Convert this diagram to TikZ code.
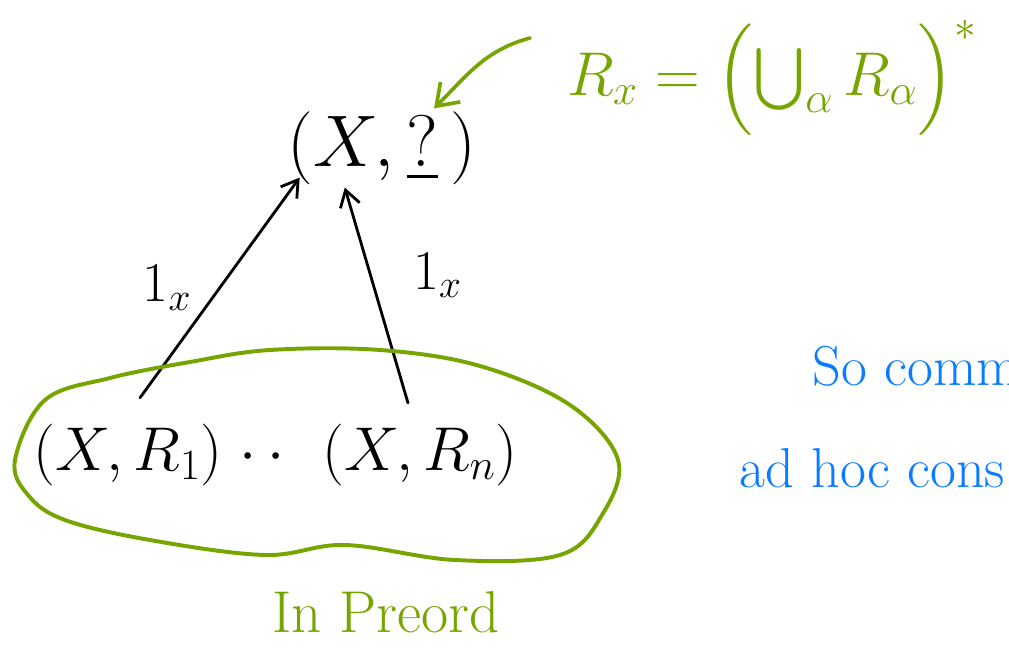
\RequirePackage{fix-cm}
\documentclass[tikz,border=0pt]{standalone}
\usepackage{amsmath,amssymb}
\usepackage{xcolor}
\usepackage{tikz}
\usetikzlibrary{arrows.meta,positioning}
\definecolor{penGreen}{RGB}{118,165,0}
\definecolor{penBlue}{RGB}{10,124,255}

\begin{document}
\begin{tikzpicture}[
  x=0.025cm, y=-0.025cm,
  obj/.style={inner sep=2pt, font=\fontsize{44}{52}\selectfont},
  arrow/.style={-{Straight Barb[length=4mm,width=5mm]}, line width=2pt, line cap=round},
  glabel/.style={text=penGreen, font=\fontsize{42}{50}\selectfont},
  garrow/.style={-{Straight Barb[length=5mm,width=7mm]}, line width=2.6pt, draw=penGreen, line cap=round},
  note/.style={text=penBlue, anchor=base west, font=\fontsize{40}{48}\selectfont},
  lab/.style={font=\fontsize{40}{48}\selectfont}
]
\clip (0,0) rectangle (1009,649);
\node[obj, font=\fontsize{52}{60}\selectfont] (top) at (382,148) {$(X,\underline{?}\,)$};
\node[obj] (r1) at (128,455) {$(X,R_1)$};
\node[obj] (dots) at (262,458) {$\cdot\,\cdot$};
\node[obj] (rn) at (420,455) {$(X,R_n)$};
\draw[arrow] ([xshift=0.3cm,yshift=0.58cm]r1.north) -- ([xshift=0.38cm,yshift=0.25cm]top.south west)
  node[lab, midway, left=16pt] {$1_x$};
\draw[arrow] ([xshift=-0.3cm,yshift=0.45cm]rn.north) -- ([xshift=-0.93cm]top.south)
  node[lab, midway, right=22pt, yshift=0.5cm] {$1_x$};
\draw[penGreen, line width=2.8pt] plot[smooth cycle, tension=0.6] coordinates {
  (15,460) (45,400) (110,378) (190,362) (270,350) (380,350) (480,366)
  (570,405) (618,460) (602,515) (560,555) (455,560) (345,545) (265,555)
  (150,540) (65,520) (28,495)};
\node[glabel] (preord) at (386,612) {In Preord};
\node[glabel, font=\fontsize{44}{52}\selectfont] (rx) at (772,78) {$R_x=\Bigl(\bigcup_\alpha R_\alpha\Bigr)^{*}$};
\coordinate (rxtail) at (530,38);
\draw[garrow] (rxtail) to[out=195,in=45] ([xshift=1.3cm]top.north);
\node[note] (so) at (808,386) {So comm};
\node[note] (adhoc) at (735,488) {ad hoc cons};
\end{tikzpicture}
\end{document}
